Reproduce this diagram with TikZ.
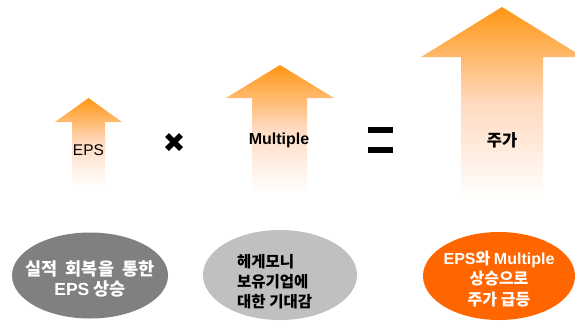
\documentclass[tikz,border=0pt]{standalone}
\usepackage{fontspec}
\setmainfont{Noto Sans CJK KR}
\newfontfamily\lat{Liberation Sans}
\usetikzlibrary{shapes.geometric}
\definecolor{arrowtop}{RGB}{255,150,20}
\definecolor{arrowmid}{RGB}{255,218,192}
\definecolor{grayA}{RGB}{128,128,128}
\definecolor{grayB}{RGB}{192,192,192}
\definecolor{orng}{RGB}{255,102,0}
\tikzset{
  uparrow/.style={top color=arrowtop, bottom color=white, middle color=arrowmid, draw=none},
  bubble/.style={ellipse, draw=none, inner sep=0pt},
  btext/.style={align=center, inner sep=0pt, font=\fontsize{16}{20}\selectfont},
  optext/.style={inner sep=0pt, text=black},
  opbar/.style={fill=black, draw=none}
}
\begin{document}
\begin{tikzpicture}[x=1pt,y=-1pt]
\path[use as bounding box, clip] (0,0) rectangle (575,325);
% arrows
\shade[uparrow] (72,187) -- (72,122) -- (55,122) -- (88.5,98) -- (122,122) -- (105,122) -- (105,187) -- cycle;
\shade[uparrow] (252,192) -- (252,98) -- (226,98) -- (280,65) -- (334,98) -- (307,98) -- (307,192) -- cycle;
\shade[uparrow] (461,200) -- (461,57) -- (421,57) -- (502,7) -- (583,57) -- (543,57) -- (543,200) -- cycle;
\node[optext, font=\lat\fontsize{15.5}{18}\selectfont] (eps) at (88.5,150) {EPS};
\node[optext, font=\lat\bfseries\fontsize{16}{18}\selectfont] (mult) at (279,140) {Multiple};
\node[optext, font=\bfseries\fontsize{16.5}{18}\selectfont] (price) at (502,140) {주가};
% times
\coordinate (times) at (174,142);
\draw[line width=5.5pt] ([shift={(-7,-7)}]times) -- ([shift={(7,7)}]times);
\draw[line width=5.5pt] ([shift={(-7,7)}]times) -- ([shift={(7,-7)}]times);
% equals
\fill[opbar] (368,127) rectangle (393,133);
\fill[opbar] (368,147) rectangle (393,153);
% ellipses
\node[bubble, fill=grayA, minimum width=156pt, minimum height=86pt] (e1) at (90,275.5) {};
\node[bubble, fill=grayB, minimum width=154pt, minimum height=90pt] (e2) at (280,275) {};
\node[bubble, fill=orng, minimum width=152pt, minimum height=88pt] (e3) at (499,276) {};
\node[btext, text=white, font=\bfseries\fontsize{17.5}{20}\selectfont] (t1) at (90,279) {실적\hspace{8pt}회복을\hspace{8pt}통한\\{\lat EPS} 상승};
\node[btext, text=black, align=left, font=\bfseries\fontsize{15.5}{20}\selectfont, anchor=west] (t2) at (237,282) {헤게모니\\보유기업에\\대한 기대감};
\node[btext, text=white, font=\bfseries\fontsize{16}{20.5}\selectfont] (t3) at (499,279) {{\lat EPS}와 {\lat Multiple}\\상승으로\\주가 급등};
\end{tikzpicture}
\end{document}
